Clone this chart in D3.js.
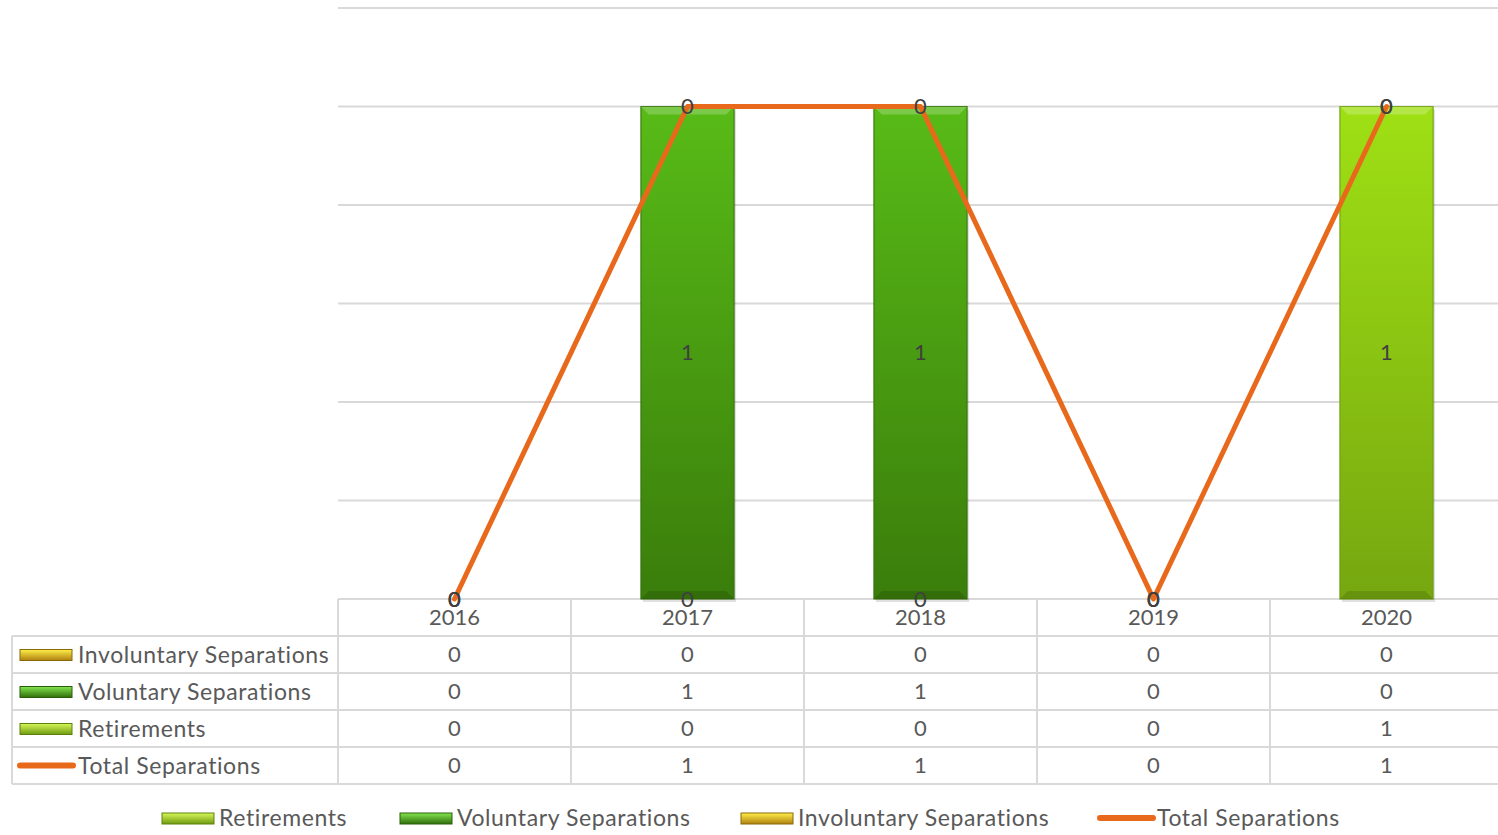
<!DOCTYPE html>
<html>
<head>
<meta charset="utf-8">
<script src="https://cdn.jsdelivr.net/npm/d3@7"></script>
<style>
  body { margin: 0; background: #fff; }
  text { font-family: "Lato", "Open Sans", sans-serif; }
</style>
</head>
<body>
<div id="chart"></div>
<script>
// values
const years = ["2016", "2017", "2018", "2019", "2020"]
const involuntary = [0, 0, 0, 0, 0]
const voluntary = [0, 1, 1, 0, 0]
const retirements = [0, 0, 0, 0, 1]
const totals = [0, 1, 1, 0, 1]
const yTicks = [0, 0.2, 0.4, 0.6, 0.8, 1, 1.2]

const W = 1498, H = 835
const plot = {left: 338, right: 1503, top: 8, bottom: 599}
const textColor = "#595959"
const gridColor = "#d9d9d9"
const nameSize = 23, nameSpacing = 0.6

const svg = d3.select("#chart").append("svg")
    .attr("width", W).attr("height", H)

const defs = svg.append("defs")
function grad(id, top, bottom) {
  const g = defs.append("linearGradient").attr("id", id)
      .attr("x1", 0).attr("y1", 0).attr("x2", 0).attr("y2", 1)
  g.append("stop").attr("offset", "0%").attr("stop-color", top)
  g.append("stop").attr("offset", "100%").attr("stop-color", bottom)
}
grad("g-ret", "#9fe014", "#76a710")
grad("g-vol", "#58bb17", "#3a7d0b")
grad("g-inv", "#f5e61c", "#c49a0c")
// legend key gradients (bevel look)
grad("k-ret", "#d8f85a", "#6f9a10")
grad("k-vol", "#84e650", "#2f6e0a")
grad("k-inv", "#fff04a", "#b08010")

const series = [
  {name: "Retirements", values: retirements, fill: "url(#g-ret)", edge: "#6b9a0d"},
  {name: "Voluntary Separations", values: voluntary, fill: "url(#g-vol)", edge: "#34700a"},
  {name: "Involuntary Separations", values: involuntary, fill: "url(#g-inv)", edge: "#a07a0a"}
]

const x = d3.scaleBand().domain(years).range([plot.left, plot.right]).padding(0)
const y = d3.scaleLinear().domain([0, 1.2]).range([plot.bottom, plot.top])
const barW = x.bandwidth() * 0.4

// gridlines
svg.append("g").selectAll("line")
  .data(yTicks)
  .join("line")
    .attr("x1", plot.left).attr("x2", W)
    .attr("y1", d => y(d)).attr("y2", d => y(d))
    .attr("stroke", gridColor).attr("stroke-width", 2)

// stacked bars
const stackData = years.map((yr, i) => {
  const o = {year: yr}
  series.forEach(s => o[s.name] = s.values[i])
  return o
})
const stack = d3.stack().keys(series.map(s => s.name))(stackData)

const barG = svg.append("g")
stack.forEach((layer, li) => {
  const s = series[li]
  layer.forEach((d, i) => {
    const h = y(d[0]) - y(d[1])
    if (h <= 0) return
    const bx = x(years[i]) + (x.bandwidth() - barW) / 2
    const by = y(d[1])
    barG.append("rect")
        .attr("x", bx + 2).attr("y", by + 3)
        .attr("width", barW).attr("height", h)
        .attr("fill", "#000").attr("opacity", 0.12)
    barG.append("rect")
        .attr("x", bx).attr("y", by)
        .attr("width", barW).attr("height", h)
        .attr("fill", s.fill)
        .attr("stroke", s.edge).attr("stroke-width", 1)
    // bevel: light top edge, dark bottom edge
    barG.append("path")
        .attr("d", `M${bx},${by}L${bx + barW},${by}L${bx + barW - 8},${by + 8}L${bx + 8},${by + 8}Z`)
        .attr("fill", "#fff").attr("opacity", 0.22)
    barG.append("path")
        .attr("d", `M${bx},${by + h}L${bx + barW},${by + h}L${bx + barW - 8},${by + h - 8}L${bx + 8},${by + h - 8}Z`)
        .attr("fill", "#000").attr("opacity", 0.12)
  })
})

// total line
const line = d3.line()
    .x((d, i) => x(years[i]) + x.bandwidth() / 2)
    .y(d => y(d))
svg.append("path")
    .datum(totals)
    .attr("d", line)
    .attr("fill", "none")
    .attr("stroke", "#e8691c")
    .attr("stroke-width", 5)
    .attr("stroke-linejoin", "round")
    .attr("stroke-linecap", "round")

// data labels for bar segments
const labG = svg.append("g")
stack.forEach((layer, li) => {
  layer.forEach((d, i) => {
    labG.append("text")
        .attr("x", x(years[i]) + x.bandwidth() / 2)
        .attr("y", y((d[0] + d[1]) / 2))
        .attr("dy", "0.35em")
        .attr("text-anchor", "middle")
        .attr("font-size", 22)
        .attr("fill", "#404040")
        .text(series[li].values[i])
  })
})

// data table
const rowH = 37
const tableTop = plot.bottom
const tableLeft = 12
const rows = [
  {name: "Involuntary Separations", values: involuntary, key: "url(#k-inv)", edge: "#8a6a08"},
  {name: "Voluntary Separations", values: voluntary, key: "url(#k-vol)", edge: "#2a5e08"},
  {name: "Retirements", values: retirements, key: "url(#k-ret)", edge: "#5c820c"},
  {name: "Total Separations", values: totals, line: true}
]
const tbl = svg.append("g")
const tableBottom = tableTop + rowH * (rows.length + 1)

d3.range(rows.length + 1).forEach(r => {
  const yy = tableTop + rowH * (r + 1)
  tbl.append("line")
      .attr("x1", tableLeft).attr("x2", W)
      .attr("y1", yy).attr("y2", yy)
      .attr("stroke", gridColor).attr("stroke-width", 2)
})
years.forEach(yr => {
  tbl.append("line")
      .attr("x1", x(yr)).attr("x2", x(yr))
      .attr("y1", tableTop).attr("y2", tableBottom)
      .attr("stroke", gridColor).attr("stroke-width", 2)
})
tbl.append("line")
    .attr("x1", tableLeft).attr("x2", tableLeft)
    .attr("y1", tableTop + rowH).attr("y2", tableBottom)
    .attr("stroke", gridColor).attr("stroke-width", 2)

// year header
tbl.selectAll(".yr")
  .data(years)
  .join("text")
    .attr("x", d => x(d) + x.bandwidth() / 2)
    .attr("y", tableTop + rowH / 2)
    .attr("dy", "0.35em")
    .attr("text-anchor", "middle")
    .attr("font-size", 22)
    .attr("fill", textColor)
    .text(d => d)

function drawKey(g, item, kx, ky) {
  if (item.line) {
    g.append("line")
        .attr("x1", kx).attr("x2", kx + 53)
        .attr("y1", ky).attr("y2", ky)
        .attr("stroke", "#e8691c").attr("stroke-width", 6)
        .attr("stroke-linecap", "round")
  } else {
    g.append("rect")
        .attr("x", kx).attr("y", ky - 5)
        .attr("width", 52).attr("height", 11)
        .attr("fill", item.key)
        .attr("stroke", item.edge).attr("stroke-width", 1)
  }
}

rows.forEach((r, ri) => {
  const cy = tableTop + rowH * (ri + 1) + rowH / 2
  drawKey(tbl, r, 20, cy)
  tbl.append("text")
      .attr("x", 78).attr("y", cy)
      .attr("dy", "0.35em")
      .attr("font-size", nameSize)
      .attr("letter-spacing", nameSpacing)
      .attr("fill", textColor)
      .text(r.name)
  r.values.forEach((v, i) => {
    tbl.append("text")
        .attr("x", x(years[i]) + x.bandwidth() / 2)
        .attr("y", cy)
        .attr("dy", "0.35em")
        .attr("text-anchor", "middle")
        .attr("font-size", 22)
        .attr("fill", textColor)
        .text(v)
  })
})

// legend at the bottom
const legendItems = [
  {name: "Retirements", key: "url(#k-ret)", edge: "#5c820c", x: 162},
  {name: "Voluntary Separations", key: "url(#k-vol)", edge: "#2a5e08", x: 400},
  {name: "Involuntary Separations", key: "url(#k-inv)", edge: "#8a6a08", x: 741},
  {name: "Total Separations", line: true, x: 1100}
]
const leg = svg.append("g")
legendItems.forEach(it => {
  drawKey(leg, it, it.x, 818)
  leg.append("text")
      .attr("x", it.x + 57).attr("y", 818)
      .attr("dy", "0.35em")
      .attr("font-size", nameSize)
      .attr("letter-spacing", nameSpacing)
      .attr("fill", textColor)
      .text(it.name)
})
</script>
</body>
</html>
